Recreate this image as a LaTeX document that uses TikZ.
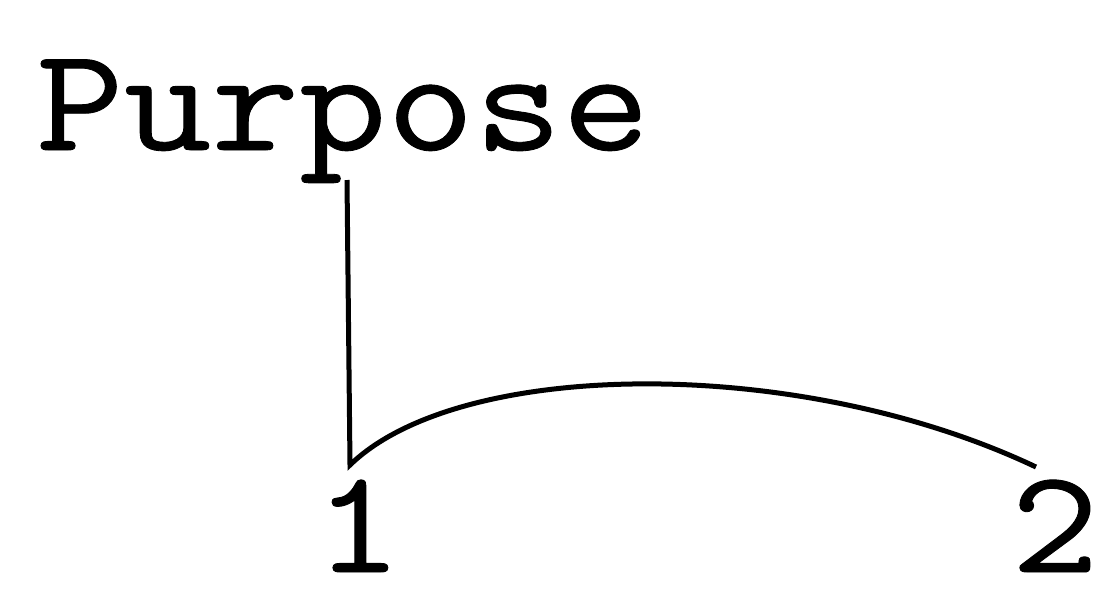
\documentclass[tikz,border=0pt]{standalone}
\usepackage{fontspec}
\newfontfamily\courfont[FakeStretch=1.15,FakeBold=0.6]{Latin Modern Mono}
\begin{document}
\begin{tikzpicture}[x=1pt,y=-1pt,
  lbl/.style={font=\courfont\fontsize{148}{150}\selectfont, inner sep=0pt},
  conn/.style={line width=5pt}]
\useasboundingbox (0,0) rectangle (1096,590);
\node[lbl, anchor=base west] (p) at (36,150) {Purpose};
\node[lbl, anchor=base] (n1) at (358,572) {1};
\node[lbl, anchor=base] (n2) at (1055,572) {2};
\coordinate (top) at (347,180);
\coordinate (j) at (350,465);
\coordinate (e) at (1036,467);
\draw[conn] (top) -- (j) .. controls (460,358) and (800,355) .. (e);
\end{tikzpicture}
\end{document}
